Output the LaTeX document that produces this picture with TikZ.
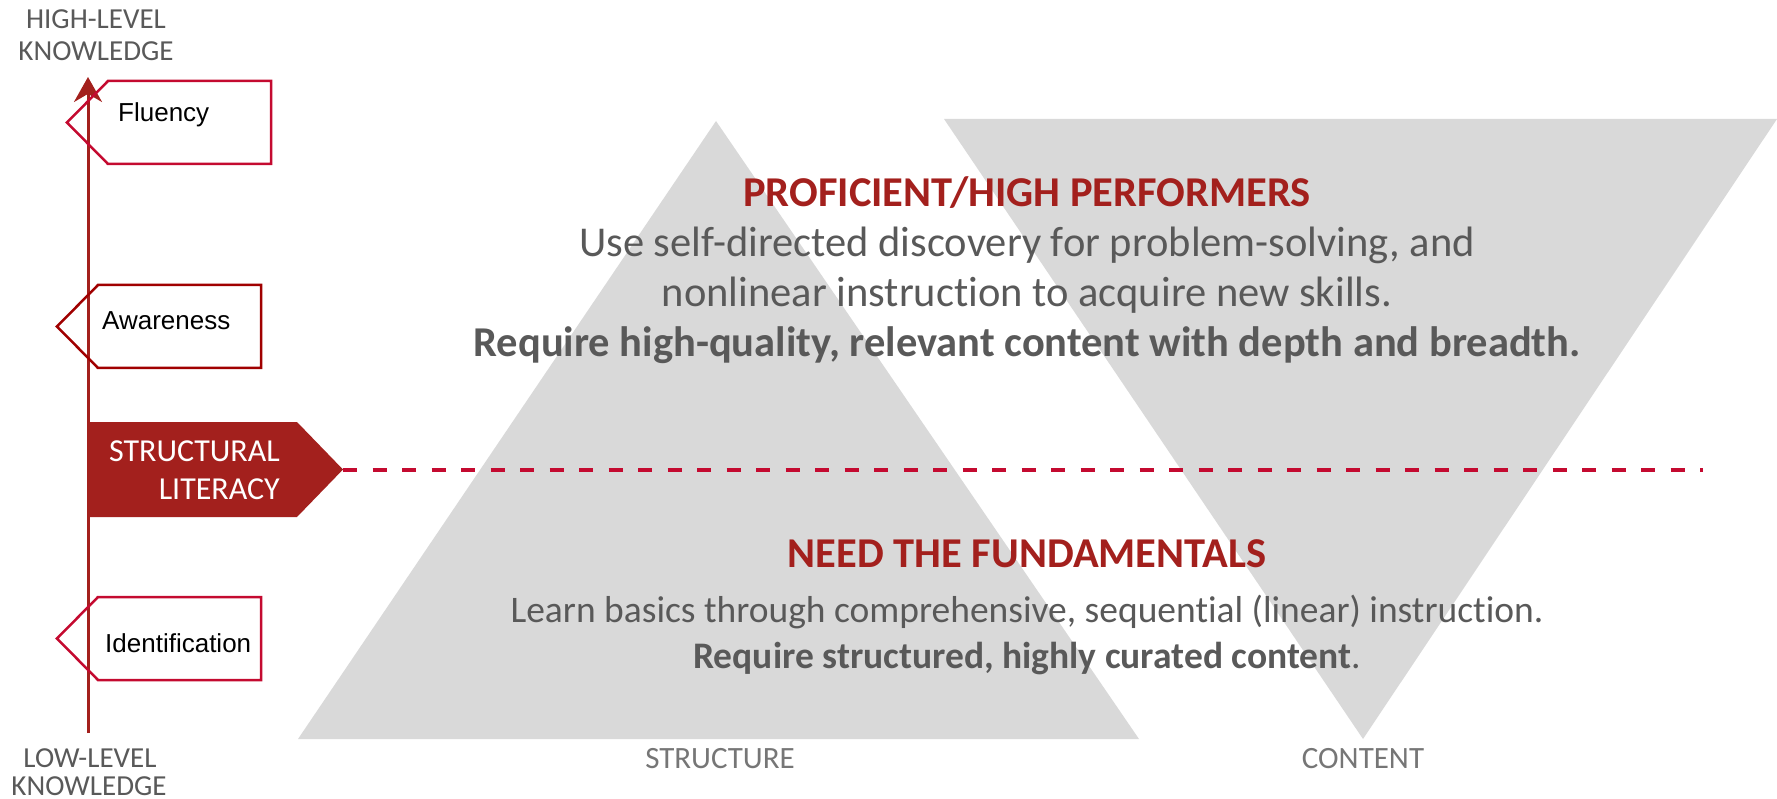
\documentclass[tikz,border=0pt]{standalone}
\usepackage{fontspec}
\setmainfont{Carlito}[Ligatures=NoCommon]
\newfontfamily\tagfont{Liberation Sans}
\usetikzlibrary{arrows.meta,positioning}

\definecolor{rustred}{HTML}{A3201D}
\definecolor{crimson}{HTML}{C40A30}
\definecolor{maroonline}{HTML}{A00000}
\definecolor{wedgegray}{HTML}{D9D9D9}
\definecolor{textgray}{HTML}{595959}
\definecolor{labelgray}{HTML}{767676}

\begin{document}
\begin{tikzpicture}[x=1pt,y=-1pt,>=Stealth]
    \tikzset{
        heading/.style={font=\fontsize{42.5}{50}\selectfont\bfseries,text=rustred,anchor=base,inner sep=0pt},
        bodyline/.style={font=\fontsize{42.5}{50}\selectfont,text=textgray,anchor=base,inner sep=0pt},
        smallline/.style={font=\fontsize{37.5}{46}\selectfont,text=textgray,anchor=base,inner sep=0pt},
        axislabel/.style={font=\fontsize{29}{32}\selectfont,text=textgray,anchor=base,inner sep=0pt},
        wedgelabel/.style={font=\fontsize{31}{32}\selectfont,text=labelgray,anchor=base,inner sep=0pt},
        levelname/.style={font=\tagfont\fontsize{26}{30}\selectfont,anchor=base west,inner sep=0pt},
        tagline/.style={line width=2.5pt,line join=miter}
    }
    \useasboundingbox (0,0) rectangle (1777,799);
    % Grey wedges: structure grows upward, content narrows downward
    \fill[wedgegray] (298,739) -- (716,121) -- (1139,739) -- cycle;
    \fill[wedgegray] (944,119) -- (1777,119) -- (1363,739) -- cycle;
    % Knowledge axis
    \coordinate (axisbot) at (88,733);
    \coordinate (axistop) at (88,77);
    \draw[->,>={Stealth[length=25pt,width=28pt]},rustred,line width=3pt] (axisbot) -- (axistop);
    \node[axislabel] (highlvl) at (96,29) {HIGH-LEVEL};
    \node[axislabel] (highknow) at (96,61) {KNOWLEDGE};
    \node[axislabel] (lowlvl) at (90,767) {LOW-LEVEL};
    \node[axislabel] (lowknow) at (89,795) {KNOWLEDGE};
    % Level tags
    \foreach \nm/\xp/\yt/\col/\tx/\by/\lbl in {fluency/67/81/crimson/118/122/Fluency,
        awareness/57/285/maroonline/102/330/Awareness,
        identification/57/597/crimson/105/652/Identification} {
        \draw[tagline,draw=\col] (\xp,\yt+41.5) -- (\xp+41,\yt) -- (\xp+204,\yt)
            -- (\xp+204,\yt+83) -- (\xp+41,\yt+83) -- cycle;
        \node[levelname] (\nm) at (\tx,\by) {\lbl};
    }
    % Structural literacy marker and threshold
    \coordinate (litpoint) at (343,469.5);
    \fill[rustred] (88,422) -- (297,422) -- (litpoint) -- (297,517) -- (88,517) -- cycle;
    \node[font=\fontsize{32}{38}\selectfont,text=white,anchor=base east,inner sep=0pt] (litone) at (280,461) {STRUCTURAL};
    \node[font=\fontsize{32}{38}\selectfont,text=white,anchor=base east,inner sep=0pt] (littwo) at (280,499) {LITERACY};
    \coordinate (dashend) at (1703,469.5);
    \draw[crimson,line width=4pt,dash pattern=on 14pt off 15.5pt] (litpoint) -- (dashend);
    % Upper group
    \node[heading] (prohead) at (1027,207) {PROFICIENT/HIGH PERFORMERS};
    \node[bodyline] (proone) at (1027,257) {Use self-directed discovery for problem-solving, and};
    \node[bodyline] (protwo) at (1027,307) {nonlinear instruction to acquire new skills.};
    \node[bodyline,font=\fontsize{42.5}{50}\selectfont\bfseries] (prothree) at (1027,357) {Require high-quality, relevant content with depth and breadth.};
    % Lower group
    \node[heading] (needhead) at (1027,567) {NEED THE FUNDAMENTALS};
    \node[smallline] (needone) at (1027,622) {Learn basics through comprehensive, sequential (linear) instruction.};
    \node[smallline] (needtwo) at (1027,668) {{\bfseries Require structured, highly curated content}.};
    % Wedge names
    \node[wedgelabel] (structlbl) at (720,768) {STRUCTURE};
    \node[wedgelabel] (contentlbl) at (1363,768) {CONTENT};
\end{tikzpicture}
\end{document}
